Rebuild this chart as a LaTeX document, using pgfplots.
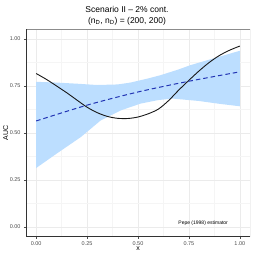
\documentclass[border=0pt]{standalone}
\usepackage{fontspec}
\setmainfont{Liberation Sans}
\usepackage{pgfplots}
\pgfplotsset{compat=1.18}
\usepgfplotslibrary{fillbetween}
\definecolor{bandcol}{RGB}{188,222,255}
\definecolor{dashcol}{RGB}{34,52,180}
\definecolor{gridmaj}{RGB}{235,235,235}
\definecolor{gridmin}{RGB}{245,245,245}
\definecolor{ticklab}{RGB}{77,77,77}
\begin{document}
\begin{tikzpicture}
\begin{axis}[
  anchor=south west, at={(0,0)},
  scale only axis, width=224bp, height=207bp,
  xmin=-0.05, xmax=1.05, ymin=-0.05, ymax=1.05,
  xtick={0,0.25,0.5,0.75,1}, xticklabels={0.00,0.25,0.50,0.75,1.00},
  ytick={0,0.25,0.5,0.75,1}, yticklabels={0.00,0.25,0.50,0.75,1.00},
  minor xtick={0.125,0.375,0.625,0.875}, minor ytick={0.125,0.375,0.625,0.875},
  grid=both,
  major grid style={draw=gridmaj, line width=0.6bp},
  minor grid style={draw=gridmin, line width=0.4bp},
  minor tick length=0pt, major tick length=2bp,
  tick align=outside, xtick pos=bottom, ytick pos=left,
  major tick style={draw=black!70, line width=0.5bp},
  axis line style={draw=none},
  tick label style={font=\fontsize{5.5bp}{6.5bp}\selectfont, text=ticklab},
  xticklabel style={yshift=0.5bp},
  xlabel={x}, ylabel={AUC},
  label style={font=\fontsize{7bp}{8bp}\selectfont},
  xlabel style={inner sep=0pt},
  ylabel style={inner sep=1pt},
  xlabel shift=-2bp, ylabel shift=-3bp,
  axis on top=false,
]
\addplot[name path=upper, draw=none, forget plot] coordinates {
(0,0.772)(0.1,0.768)(0.2,0.762)(0.3,0.755)(0.4,0.758)(0.463,0.768)(0.55,0.79)(0.61,0.807)(0.7,0.838)(0.756,0.86)(0.85,0.89)(0.93,0.915)(1,0.937)};
\addplot[name path=lower, draw=none, forget plot] coordinates {
(0,0.314)(0.1,0.39)(0.22,0.479)(0.317,0.567)(0.415,0.62)(0.512,0.656)(0.6,0.675)(0.67,0.683)(0.8,0.67)(0.9,0.655)(1,0.642)};
\addplot[fill=bandcol, draw=none] fill between[of=upper and lower];
\addplot[smooth, black!90, line width=0.9bp] coordinates {
(0,0.816)(0.05,0.785)(0.1,0.75)(0.15,0.714)(0.2,0.675)(0.25,0.637)(0.3,0.608)(0.35,0.588)(0.4,0.578)(0.45,0.577)(0.5,0.585)(0.55,0.602)(0.6,0.627)(0.65,0.672)(0.7,0.728)(0.75,0.78)(0.8,0.83)(0.85,0.875)(0.9,0.912)(0.95,0.94)(1,0.962)};
\addplot[smooth, dashcol, line width=1bp, dash pattern=on 4.5bp off 3bp] coordinates {
(0,0.564)(0.25,0.648)(0.5,0.718)(0.75,0.775)(1,0.825)};
\draw[draw=black!45, line width=0.6bp] (rel axis cs:0,1) -- (rel axis cs:1,1) -- (rel axis cs:1,0);
\draw[draw=black!80, line width=0.6bp] (rel axis cs:0,1) -- (rel axis cs:0,0) -- (rel axis cs:1,0);
\node[font=\fontsize{5bp}{6bp}\selectfont, text=black] at (axis cs:0.82,0.02) {Pepe (1998) estimator};
\end{axis}
\node[font=\fontsize{8.5bp}{10bp}\selectfont] at (101bp,227.5bp) {Scenario II – 2\% cont.};
\node[font=\fontsize{8.5bp}{10bp}\selectfont] at (101bp,215.5bp) {(n\textsubscript{\={D}}, n\textsubscript{D}) = (200, 200)};
\pgfresetboundingbox
\useasboundingbox (-26bp,-17.5bp) rectangle (228bp,236.5bp);
\end{tikzpicture}
\end{document}
